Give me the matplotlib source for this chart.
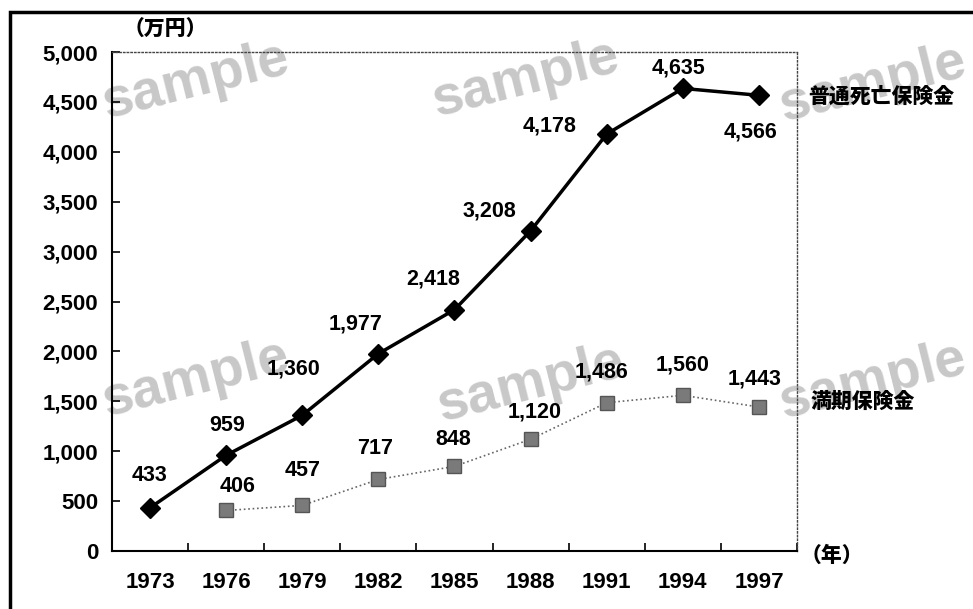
import numpy as np
import matplotlib.pyplot as plt
from matplotlib.patches import Rectangle
from matplotlib.ticker import FuncFormatter

plt.rcParams['font.family'] = ['Liberation Sans', 'Noto Sans CJK JP', 'DejaVu Sans']

years = ["1973", "1976", "1979", "1982", "1985", "1988", "1991", "1994", "1997"]
death = [433, 959, 1360, 1977, 2418, 3208, 4178, 4635, 4566]
maturity = [None, 406, 457, 717, 848, 1120, 1486, 1560, 1443]
death_name = "普通死亡保険金"
maturity_name = "満期保険金"

# label offsets in pixels (dx, dy)
death_off = [(-1, 32), (1, 30), (-9, 46), (-23, 30), (-21, 31), (-41, 20), (-57, 8), (-4, 20), (-8, -37)]
mat_off = [None, (11, 24), (0, 35), (-3, 31), (-1, 27), (4, 27), (-5, 31), (0, 30), (-4, 28)]

W, H = 973, 609
fig = plt.figure(figsize=(W / 100, H / 100), dpi=100)
ax = fig.add_axes([112 / W, 1 - 551 / H, (797 - 112) / W, (551 - 52) / H])
ax.patch.set_alpha(0)

# outer frame
fig.patches.append(Rectangle((10 / W, -0.05), 1.2, (H - 12) / H + 0.05, transform=fig.transFigure,
                             fill=False, edgecolor='black', linewidth=2.5, zorder=0))

# watermark behind everything
for x, y in [(195, 82), (525, 80), (872, 85), (195, 380), (530, 385), (872, 382)]:
    fig.text(x / W, 1 - y / H, "sample", fontsize=40, fontweight='bold', color='#c8c8c8',
             rotation=14, ha='center', va='center', zorder=-1)

x = np.arange(len(years))
ax.plot(x, death, color='black', lw=2.5, marker='D', markersize=10, zorder=4)
xm = [i for i, v in enumerate(maturity) if v is not None]
ym = [v for v in maturity if v is not None]
ax.plot(xm, ym, color='#666666', lw=1.2, ls=':', marker='s', markersize=10,
        markerfacecolor='#7a7a7a', markeredgecolor='#555555', zorder=3)

lab = dict(fontsize=15.5, fontweight='bold', ha='center', va='center', textcoords='offset pixels')
for i, v in enumerate(death):
    ax.annotate(f"{v:,}", (x[i], v), xytext=death_off[i], **lab)
for i, v in enumerate(maturity):
    if v is not None:
        ax.annotate(f"{v:,}", (x[i], v), xytext=mat_off[i], **lab)

ax.set_xlim(-0.5, len(years) - 0.5)
ax.set_ylim(0, 5000)
ax.set_yticks(np.arange(0, 5001, 500))
ax.yaxis.set_major_formatter(FuncFormatter(lambda v, p: f"{int(v):,}"))
ax.set_xticks(x)
ax.set_xticklabels(years)
ax.set_xticks(np.arange(-0.5, len(years)), minor=True)
ax.tick_params(axis='x', which='major', length=0, pad=15, labelsize=16)
ax.tick_params(axis='x', which='minor', direction='in', length=6, width=1.2)
ax.tick_params(axis='y', direction='in', length=6, width=1.2, pad=10, labelsize=16)
for t in ax.get_xticklabels() + ax.get_yticklabels():
    t.set_fontweight('bold')

ax.spines['left'].set_linewidth(1.5)
ax.spines['bottom'].set_linewidth(1.5)
for s in ['top', 'right']:
    ax.spines[s].set_linestyle(':')
    ax.spines[s].set_color('#444444')
    ax.spines[s].set_linewidth(1)

cjk = dict(fontsize=15, fontweight='heavy', family=['Noto Sans CJK JP', 'DejaVu Sans'])
fig.text(165 / W, 1 - 30 / H, "（万円）", ha='center', va='center', **cjk)
fig.text(832 / W, 1 - 556 / H, "（年）", ha='center', va='center', **cjk)
fig.text(808 / W, 1 - 97 / H, death_name, ha='left', va='center', **cjk)
fig.text(811 / W, 1 - 402 / H, maturity_name, ha='left', va='center', **cjk)

fig.savefig("out.png", dpi=100)
